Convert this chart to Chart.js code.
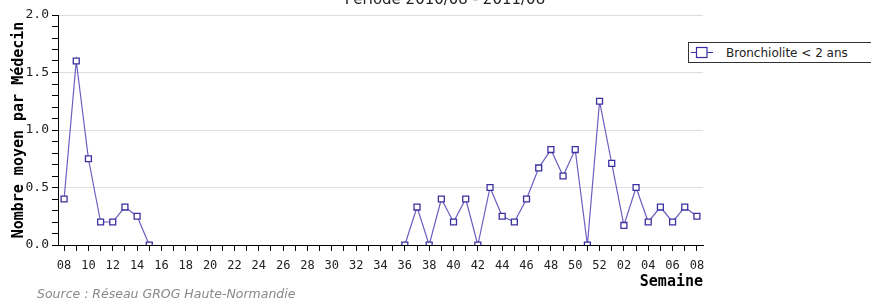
<!DOCTYPE html>
<html>
<head>
<meta charset="utf-8">
<script src="https://cdn.jsdelivr.net/npm/chart.js@4"></script>
<style>
  html, body { margin: 0; padding: 0; background: #fff; overflow: hidden; }
  #wrap { position: relative; width: 871px; height: 302px; }
  #legende {
    position: absolute; left: 688px; top: 42px; width: 200px; height: 21px;
    border: 1px solid #333; box-sizing: border-box; background: #fff;
    font: 12px "DejaVu Sans", sans-serif; color: #222;
    display: flex; align-items: center;
  }
  #legende svg { margin-left: 2px; margin-right: 13px; }
</style>
</head>
<body>
<div id="wrap">
  <canvas id="graphique" width="871" height="302"></canvas>
  <div id="legende">
    <svg width="22" height="13"><line x1="0" y1="6.5" x2="22" y2="6.5" stroke="#3a2fa0" stroke-width="1"/><rect x="5.5" y="1.5" width="10.5" height="10" fill="#fff" stroke="#3a2fa0" stroke-width="1.2"/></svg>
    <span>Bronchiolite &lt; 2 ans</span>
  </div>
</div>
<script>
// semaines 2010/08 -> 2011/08
const semaines = [
  "08","09","10","11","12","13","14","15","16","17","18","19","20","21","22","23",
  "24","25","26","27","28","29","30","31","32","33","34","35","36","37","38","39",
  "40","41","42","43","44","45","46","47","48","49","50","51","52",
  "01","02","03","04","05","06","07","08"
];

// nombre moyen par médecin (null = pas de données)
const bronchiolite = [
  0.4, 1.6, 0.75, 0.2, 0.2, 0.33, 0.25, 0,
  null, null, null, null, null, null, null, null, null, null,
  null, null, null, null, null, null, null, null, null, null,
  0, 0.33, 0, 0.4, 0.2, 0.4, 0, 0.5, 0.25, 0.2, 0.4, 0.67, 0.83, 0.6, 0.83, 0, 1.25,
  0.71, 0.17, 0.5, 0.2, 0.33, 0.2, 0.33, 0.25
];

const titre = "Période 2010/08 - 2011/08";
const source = "Source : Réseau GROG Haute-Normandie";

// titre coupé en haut + source en bas
const textesPlugin = {
  id: "textes",
  afterDraw(chart) {
    const ctx = chart.ctx;
    ctx.save();
    ctx.fillStyle = "#222";
    ctx.font = '15px "DejaVu Sans", sans-serif';
    ctx.textAlign = "center";
    ctx.textBaseline = "alphabetic";
    ctx.fillText(titre, 445, 4);
    ctx.fillStyle = "#888";
    ctx.font = 'oblique 12.5px "DejaVu Sans", sans-serif';
    ctx.textAlign = "left";
    ctx.textBaseline = "middle";
    ctx.fillText(source, 37, 295);
    ctx.restore();
  }
};

function demi(v) {
  return Math.abs(v * 2 - Math.round(v * 2)) < 1e-6;
}

new Chart(document.getElementById("graphique"), {
  type: "line",
  data: {
    labels: semaines,
    datasets: [{
      label: "Bronchiolite < 2 ans",
      data: bronchiolite,
      borderColor: "#6a5fc0",
      borderWidth: 1.2,
      pointStyle: "rect",
      pointRadius: 4.2,
      pointBorderWidth: 1.3,
      pointBorderColor: "#3a2fa0",
      pointBackgroundColor: "#fff",
      spanGaps: false,
      tension: 0
    }]
  },
  plugins: [textesPlugin],
  options: {
    responsive: false,
    animation: false,
    layout: { padding: { top: 15, right: 168, bottom: 11, left: 0 } },
    plugins: {
      legend: { display: false },
      tooltip: { enabled: false }
    },
    scales: {
      x: {
        offset: true,
        afterFit(s) { s.height = 46; },
        border: { color: "#000", width: 1 },
        grid: { drawOnChartArea: false, tickLength: 6, tickColor: "#000", offset: false },
        ticks: {
          autoSkip: false,
          maxRotation: 0,
          padding: 8,
          color: "#222",
          font: { family: "DejaVu Sans Mono", size: 12 },
          callback(v, i) { return i % 2 === 0 ? semaines[i] : ""; }
        },
        title: {
          display: true,
          text: "Semaine",
          align: "end",
          color: "#000",
          padding: 0,
          font: { family: "DejaVu Sans Mono", size: 15, weight: "bold" }
        }
      },
      y: {
        min: 0,
        max: 2,
        afterFit(s) { s.width = 58; },
        border: { color: "#000", width: 1 },
        grid: {
          tickLength: 6,
          tickColor: "#000",
          color(c) { return c.tick && c.tick.value > 0 && demi(c.tick.value) ? "#dddddd" : "rgba(0,0,0,0)"; }
        },
        ticks: {
          stepSize: 0.1,
          autoSkip: false,
          padding: 3,
          color: "#222",
          font: { family: "DejaVu Sans Mono", size: 13 },
          callback(v) { return demi(v) ? v.toFixed(1) : ""; }
        },
        title: {
          display: true,
          text: "Nombre moyen par Médecin",
          color: "#000",
          padding: { top: 10, bottom: 0 },
          font: { family: "DejaVu Sans Mono", size: 15, weight: "bold" }
        }
      }
    }
  }
});
</script>
</body>
</html>
